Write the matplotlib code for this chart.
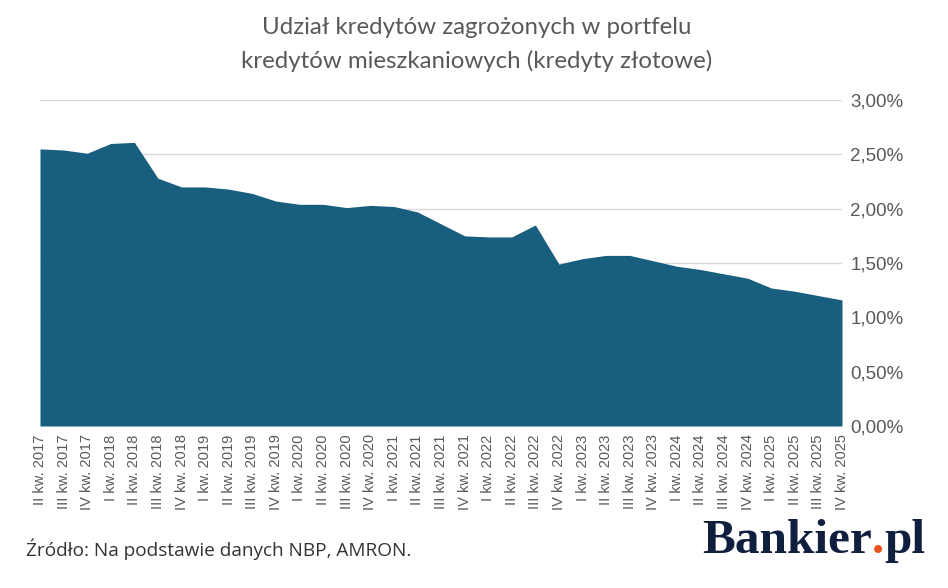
import matplotlib
matplotlib.use('Agg')
import matplotlib.pyplot as plt
from matplotlib.ticker import FuncFormatter

# Kwartały od II kw. 2017 do IV kw. 2025
kwartaly = ['II kw. 2017', 'III kw. 2017', 'IV kw. 2017']
for rok in range(2018, 2026):
    for q in ['I', 'II', 'III', 'IV']:
        kwartaly.append(f'{q} kw. {rok}')

# Udział kredytów zagrożonych (%)
udzial = [2.55, 2.54, 2.51, 2.60, 2.61, 2.28, 2.20, 2.20, 2.18, 2.14,
          2.07, 2.04, 2.04, 2.01, 2.03, 2.02, 1.97, 1.86, 1.75, 1.74,
          1.74, 1.85, 1.49, 1.54, 1.57, 1.57, 1.52, 1.47, 1.44, 1.40,
          1.36, 1.27, 1.24, 1.20, 1.16]

y_ticks = [0, 0.5, 1.0, 1.5, 2.0, 2.5, 3.0]

kolor_obszaru = '#175e7f'
szary = '#595959'

fig = plt.figure(figsize=(9.48, 5.88), dpi=100)
ax = fig.add_axes([40 / 948, 1 - 426 / 588, 802 / 948, 326 / 588])

x = list(range(len(kwartaly)))
ax.fill_between(x, udzial, 0, color=kolor_obszaru, linewidth=0, zorder=2)

ax.set_xlim(0, len(kwartaly) - 1)
ax.set_ylim(0, 3.0)
ax.set_yticks(y_ticks)
ax.yaxis.set_major_formatter(FuncFormatter(lambda v, p: f'{v:.2f}%'.replace('.', ',')))
ax.yaxis.tick_right()
ax.grid(axis='y', color='#d9d9d9', linewidth=1, zorder=0)

ax.set_xticks(x)
ax.set_xticklabels(kwartaly, rotation=90, fontsize=10.5, color=szary, family='Liberation Sans')
for lab in ax.get_yticklabels():
    lab.set_fontsize(13.5)
    lab.set_color(szary)
    lab.set_family('Liberation Sans')
ax.tick_params(axis='both', length=0)
ax.tick_params(axis='y', pad=6)
ax.tick_params(axis='x', pad=6)

for s in ax.spines.values():
    s.set_visible(False)

# Tytuł
fig.text(477 / 948, 1 - 28 / 588, 'Udział kredytów zagrożonych w portfelu',
         ha='center', va='center', fontsize=17.3, color=szary, family='Lato')
fig.text(477 / 948, 1 - 61 / 588, 'kredytów mieszkaniowych (kredyty złotowe)',
         ha='center', va='center', fontsize=17.3, color=szary, family='Lato')

# Źródło
fig.text(26 / 948, 1 - 556 / 588, 'Źródło: Na podstawie danych NBP, AMRON.',
         ha='left', va='baseline', fontsize=13.7, color='#333333', family='Open Sans')

# Logo Bankier.pl
granat = '#0f1f3d'
renderer = fig.canvas.get_renderer()
t1 = fig.text(702 / 948, 1 - 553 / 588, 'Bankier', ha='left', va='baseline',
              fontsize=35.5, fontweight='bold', color=granat, family='Liberation Serif')
bb = t1.get_window_extent(renderer)
t2 = fig.text(bb.x1 / 948, 1 - 553 / 588, '.', ha='left', va='baseline',
              fontsize=35.5, fontweight='bold', color='#e8541e', family='Liberation Serif')
bb2 = t2.get_window_extent(renderer)
fig.text(bb2.x1 / 948, 1 - 553 / 588, 'pl', ha='left', va='baseline',
         fontsize=35.5, fontweight='bold', color=granat, family='Liberation Serif')

fig.savefig('out.png', dpi=100)
